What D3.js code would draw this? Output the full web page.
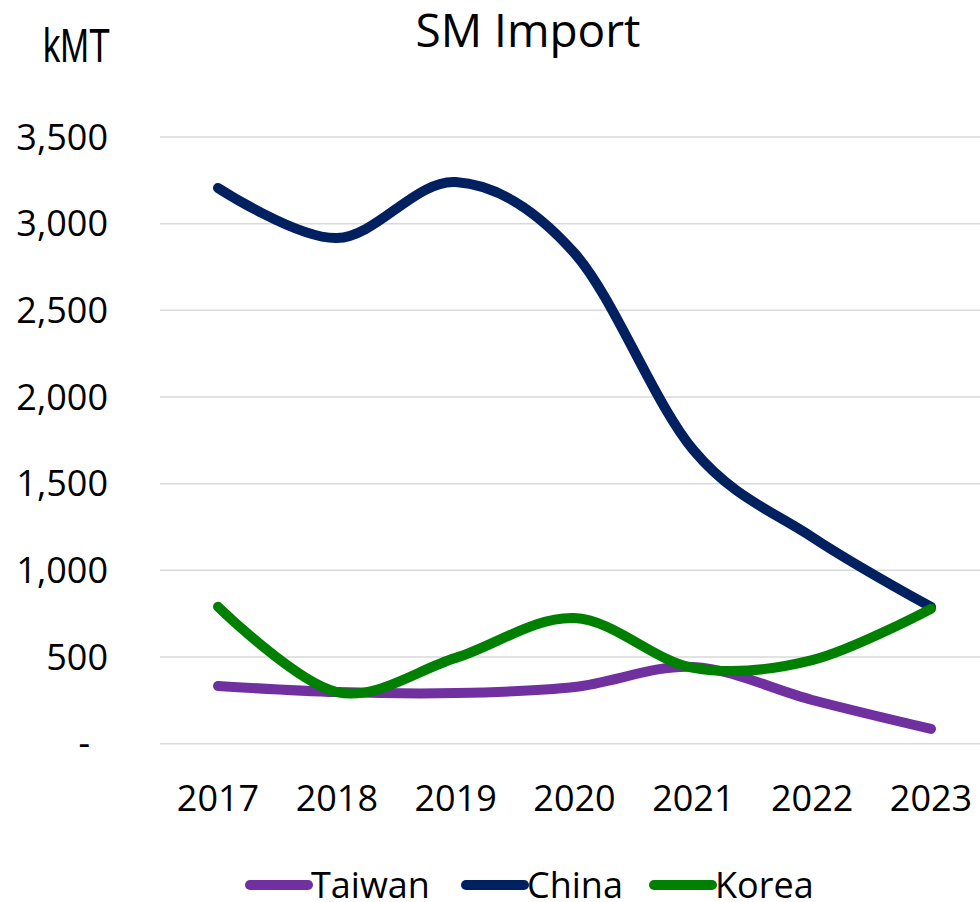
<!DOCTYPE html>
<html>
<head>
<meta charset="utf-8">
<script src="https://cdn.jsdelivr.net/npm/d3@7"></script>
<style>
  body { margin: 0; background: #fff; }
  svg { display: block; }
</style>
</head>
<body>
<div id="chart"></div>
<script>
const years = ["2017", "2018", "2019", "2020", "2021", "2022", "2023"];
const taiwan = [333, 298, 292, 327, 443, 252, 85];
const china = [3206, 2917, 3240, 2830, 1694, 1192, 789];
const korea = [790, 298, 495, 725, 437, 482, 778];
const yTicks = [0, 500, 1000, 1500, 2000, 2500, 3000, 3500];

const seriesNames = ["Taiwan", "China", "Korea"];
const seriesColors = ["#7030a0", "#002060", "#008000"];
const seriesValues = [taiwan, china, korea];

const width = 980,
    height = 902;

const svg = d3.select("#chart").append("svg")
    .attr("width", width)
    .attr("height", height)
    .style("font-family", "'Open Sans', sans-serif");

const x = d3.scalePoint().domain(years).range([218, 931]);
const y = d3.scaleLinear().domain([0, 3500]).range([743.7, 137]);

// gridlines
svg.append("g")
    .selectAll("line")
    .data(yTicks)
    .join("line")
    .attr("x1", 160)
    .attr("x2", 980)
    .attr("y1", d => y(d))
    .attr("y2", d => y(d))
    .attr("stroke", "#d9d9d9")
    .attr("stroke-width", 1.5);

// y axis labels
const fmt = d3.format(",");
svg.append("g")
    .selectAll("text")
    .data(yTicks)
    .join("text")
    .attr("x", d => d === 0 ? 90 : 108)
    .attr("y", d => y(d))
    .attr("dy", "0.35em")
    .attr("text-anchor", "end")
    .attr("font-size", 36)
    .attr("fill", "#000")
    .text(d => d === 0 ? "-" : fmt(d));

// x axis labels
svg.append("g")
    .selectAll("text")
    .data(years)
    .join("text")
    .attr("x", d => x(d))
    .attr("y", 798)
    .attr("dy", "0.35em")
    .attr("text-anchor", "middle")
    .attr("font-size", 36)
    .attr("fill", "#000")
    .text(d => d);

// lines
const line = d3.line()
    .x((d, i) => x(years[i]))
    .y(d => y(d))
    .curve(d3.curveCardinal.tension(0));

svg.append("g")
    .attr("fill", "none")
    .attr("stroke-width", 10)
    .attr("stroke-linecap", "round")
    .attr("stroke-linejoin", "round")
    .selectAll("path")
    .data(seriesValues)
    .join("path")
    .attr("stroke", (d, i) => seriesColors[i])
    .attr("d", line);

// title
svg.append("text")
    .attr("x", 528)
    .attr("y", 47)
    .attr("text-anchor", "middle")
    .attr("font-size", 46)
    .attr("fill", "#000")
    .text("SM Import");

// unit label
svg.append("text")
    .attr("x", 43)
    .attr("y", 62)
    .attr("font-family", "'Liberation Sans Narrow', 'Liberation Sans', sans-serif")
    .attr("font-size", 48)
    .attr("textLength", 67)
    .attr("lengthAdjust", "spacingAndGlyphs")
    .attr("fill", "#000")
    .text("kMT");

// legend
const legendX = [250, 466, 654];
const legend = svg.append("g")
    .selectAll("g")
    .data(seriesNames)
    .join("g")
    .attr("transform", (d, i) => `translate(${legendX[i]},885)`);

legend.append("line")
    .attr("x1", 0)
    .attr("x2", 58)
    .attr("stroke", (d, i) => seriesColors[i])
    .attr("stroke-width", 10)
    .attr("stroke-linecap", "round");

legend.append("text")
    .attr("x", 61)
    .attr("y", 13)
    .attr("font-size", 36)
    .attr("fill", "#000")
    .text(d => d);
</script>
</body>
</html>
